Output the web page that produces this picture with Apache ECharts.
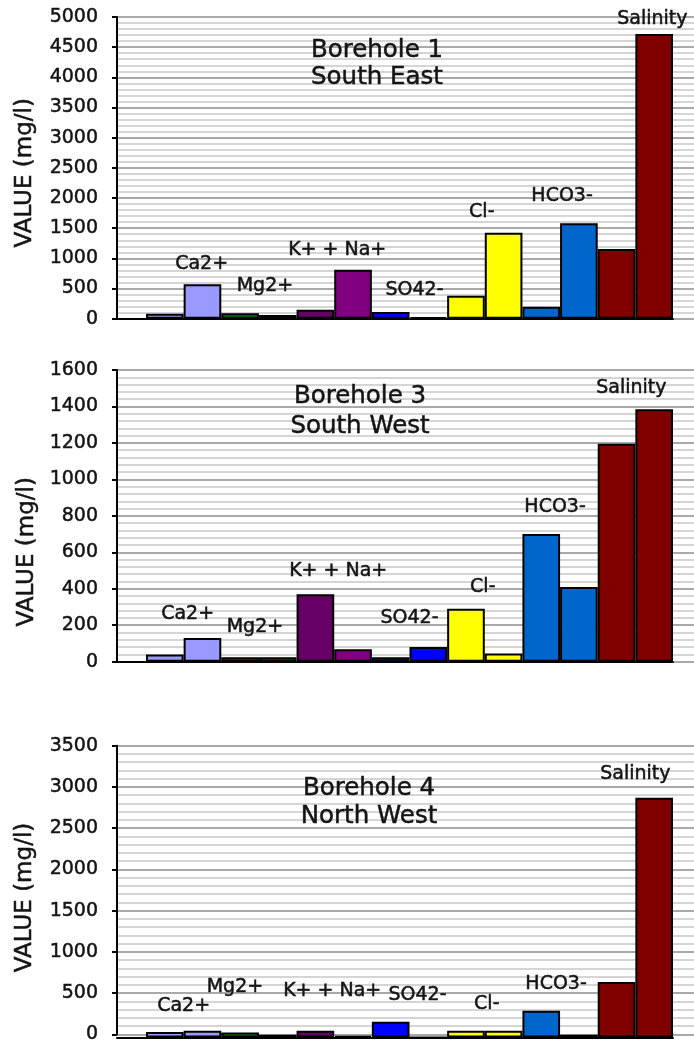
<!DOCTYPE html>
<html><head><meta charset="utf-8">
<script src="https://cdn.jsdelivr.net/npm/echarts@6/dist/echarts.min.js"></script>
<style>html,body{margin:0;padding:0;background:#fff}#c{width:694px;height:1044px}</style>
</head><body><div id="c"></div>
<script>
// ---- data ----
const categories = ['Ca2+', 'Mg2+', 'K+ + Na+', 'SO42-', 'Cl-', 'HCO3-', 'Salinity'];
const bh1Sample1 = [80, 90, 150, 110, 380, 200, 1155];
const bh1Sample2 = [570, 60, 810, 25, 1425, 1580, 4720];
const bh3Sample1 = [40, 25, 370, 25, 290, 700, 1195];
const bh3Sample2 = [130, 25, 68, 80, 45, 410, 1385];
const bh4Sample1 = [65, 60, 80, 190, 80, 320, 667];
const bh4Sample2 = [80, 32, 20, 0, 80, 32, 2876];
const panelTitles = ['Borehole 1\nSouth East', 'Borehole 3\nSouth West', 'Borehole 4\nNorth West'];
const yMax = [5000, 1600, 3500];
const yStep = [500, 200, 500];
const yName = 'VALUE (mg/l)';

// ---- style ----
const colors1 = ['#9999FF', '#008000', '#660066', '#0000FF', '#FFFF00', '#0066CC', '#800000'];
const colors2 = ['#9999FF', '#008000', '#800080', '#0000FF', '#FFFF00', '#0066CC', '#800000'];
const FONT = 'DejaVu Sans';
const TXT = '#141414';
const heavy = {textBorderColor: TXT, textBorderWidth: 0.5};
const panels = [
  {s1: bh1Sample1, s2: bh1Sample2, top: 17, bottom: 318.7, nameGap: 80, namePad: 10,
   titleX: 377, titleY: 37, lh: 27,
   lab: [[18,-20],[6,-27],[3,-20],[5,-22],[-3,-21],[2,-27],[17,-15]]},
  {s1: bh3Sample1, s2: bh3Sample2, top: 370, bottom: 661.7, nameGap: 62, namePad: 72,
   titleX: 360, titleY: 382, lh: 30,
   lab: [[4,-24],[-4,-30],[4,-23],[0,-29],[-2,-22],[-5,-27],[-4,-21]]},
  {s1: bh4Sample1, s2: bh4Sample2, top: 745.7, bottom: 1037.5, nameGap: 80, namePad: 15,
   titleX: 369, titleY: 774.2, lh: 28.5,
   lab: [[0,-25],[-24,-45],[-2,-40],[8,-27],[2,-27],[-4,-27],[0,-24]]}
];

const grid = [], xAxis = [], yAxis = [], series = [], title = [];
panels.forEach((p, k) => {
  const h = p.bottom - p.top;
  grid.push({left: 117, right: 0, top: p.top, height: h});   // y axis + gridlines
  grid.push({left: 117, right: 21, top: p.top, height: h});  // baseline
  grid.push({left: 146, right: 21, top: p.top, height: h});  // bars
  const gA = 3 * k, gB = 3 * k + 1, gC = 3 * k + 2;
  xAxis.push({gridIndex: gA, type: 'value', min: 0, max: 1, show: false});
  xAxis.push({gridIndex: gB, type: 'value', min: 0, max: 1,
    axisLine: {show: true, onZero: false, lineStyle: {color: '#000', width: 2}},
    axisTick: {show: false}, axisLabel: {show: false}, splitLine: {show: false}});
  xAxis.push({gridIndex: gC, type: 'category', data: categories, show: false, boundaryGap: true});
  yAxis.push({gridIndex: gA, type: 'value', min: 0, max: yMax[k], interval: yStep[k],
    name: yName, nameLocation: 'middle', nameGap: p.nameGap,
    nameTextStyle: Object.assign({fontFamily: FONT, fontSize: 23, color: TXT, padding: [0, p.namePad, 0, 0]}, heavy),
    axisLine: {show: true, lineStyle: {color: '#000', width: 2}},
    axisTick: {show: true, length: 5, lineStyle: {color: '#000', width: 2}},
    axisLabel: Object.assign({fontFamily: FONT, fontSize: 19, color: TXT, margin: 19, formatter: v => String(v)}, heavy),
    splitLine: {show: true, lineStyle: {color: '#8c8c8c', width: 1.5}},
    minorTick: {show: false, splitNumber: 5},
    minorSplitLine: {show: true, lineStyle: {color: '#c8c8c8', width: 1.5}}});
  yAxis.push({gridIndex: gB, type: 'value', min: 0, max: yMax[k], show: false, splitLine: {show: false}});
  yAxis.push({gridIndex: gC, type: 'value', min: 0, max: yMax[k], show: false, splitLine: {show: false}});
  series.push({type: 'bar', xAxisIndex: gC, yAxisIndex: gC, data: p.s1,
    barGap: '0%', barCategoryGap: '0%',
    itemStyle: {color: d => colors1[d.dataIndex], borderColor: '#000', borderWidth: 2}});
  series.push({type: 'bar', xAxisIndex: gC, yAxisIndex: gC, data: p.s2,
    barGap: '0%', barCategoryGap: '0%',
    itemStyle: {color: d => colors2[d.dataIndex], borderColor: '#000', borderWidth: 2}});
  series.push({type: 'scatter', xAxisIndex: gC, yAxisIndex: gC, symbolSize: 0, silent: true, z: 5,
    itemStyle: {opacity: 1},
    data: categories.map((c, i) => ({value: [i, Math.max(p.s1[i], p.s2[i])], label: {offset: p.lab[i]}})),
    label: Object.assign({show: true, position: 'inside', formatter: d => categories[d.dataIndex],
      fontFamily: FONT, fontSize: 19, color: TXT, opacity: 1}, heavy)});
  title.push({text: panelTitles[k], left: p.titleX, top: p.titleY, textAlign: 'center', padding: 0,
    textStyle: Object.assign({fontFamily: FONT, fontSize: 24.5, fontWeight: 'normal', color: TXT, lineHeight: p.lh}, heavy)});
});

const chart = echarts.init(document.getElementById('c'), null, {renderer: 'canvas'});
chart.setOption({animation: false, backgroundColor: '#fff', title, grid, xAxis, yAxis, series});
</script></body></html>
